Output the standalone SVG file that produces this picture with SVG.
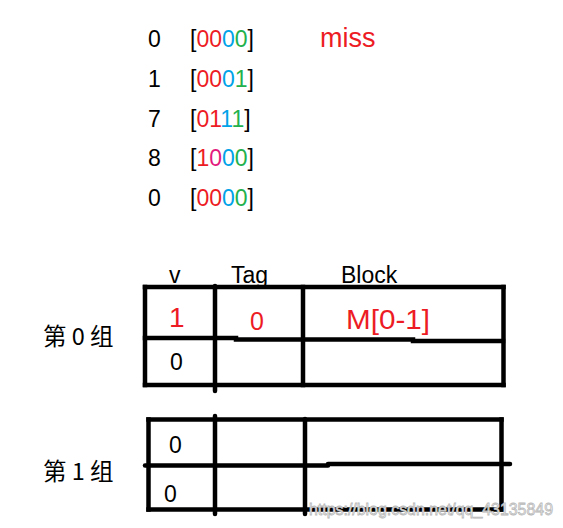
<svg xmlns="http://www.w3.org/2000/svg" width="563" height="528" viewBox="0 0 563 528">
<style>
  text { font-family: "Liberation Sans", Arial, sans-serif; }
  .t { font-size: 23px; fill: #000; }
  .r { fill: #ed1c24; }
  .b { fill: #00a2e8; }
  .g { fill: #22b14c; }
  .m { fill: #e3197e; }
  .cjk { font-family: "Noto Sans CJK SC", "Noto Sans", sans-serif; font-size: 23.5px; fill: #000; }
  .ln { stroke: #000; stroke-width: 4.5; fill: none; stroke-linecap: square; }
  .rl { stroke: #000; stroke-width: 4.5; fill: none; stroke-linecap: round; }
  .wm { font-family: "Liberation Sans", Arial, sans-serif; font-size: 17px; fill: #f4f4f4; stroke: #b8b8b8; stroke-width: 0.8; }
</style>

<g id="addresses">
  <text class="t" x="148" y="47">0</text>
  <text class="t" x="190" y="47">[<tspan class="r">00</tspan><tspan class="b">0</tspan><tspan class="g">0</tspan>]</text>
  <text x="320" y="47" font-size="27" class="r">miss</text>

  <text class="t" x="148" y="87">1</text>
  <text class="t" x="190" y="87">[<tspan class="r">00</tspan><tspan class="b">0</tspan><tspan class="g">1</tspan>]</text>

  <text class="t" x="148" y="127">7</text>
  <text class="t" x="190" y="127">[<tspan class="r">01</tspan><tspan class="b">1</tspan><tspan class="g">1</tspan>]</text>

  <text class="t" x="148" y="166">8</text>
  <text class="t" x="190" y="166">[<tspan class="r">1</tspan><tspan class="m">0</tspan><tspan class="b">0</tspan><tspan class="g">0</tspan>]</text>

  <text class="t" x="148" y="206">0</text>
  <text class="t" x="190" y="206">[<tspan class="r">00</tspan><tspan class="b">0</tspan><tspan class="g">0</tspan>]</text>
</g>

<g id="headers">
  <text class="t" x="169" y="283" font-size="24">v</text>
  <text class="t" x="231" y="283">Tag</text>
  <text class="t" x="341" y="283">Block</text>
</g>

<g id="set0">
  <text class="cjk" x="43" y="345">第 0 组</text>
  <line class="ln" x1="145" y1="287" x2="503.5" y2="287"/>
  <line class="ln" x1="145" y1="385" x2="503.5" y2="385"/>
  <line class="ln" x1="145" y1="287" x2="145" y2="385"/>
  <line class="ln" x1="503.5" y1="287" x2="503.5" y2="385"/>
  <line class="rl" x1="215" y1="286" x2="215" y2="391"/>
  <line class="ln" x1="303" y1="287" x2="303" y2="385"/>
  <line class="ln" x1="145" y1="338" x2="236" y2="338"/>
  <line class="ln" x1="236" y1="339.5" x2="413" y2="339.5"/>
  <line class="ln" x1="413" y1="341" x2="503" y2="341"/>
  <text x="169" y="327" font-size="28" class="r">1</text>
  <text x="250" y="330" font-size="25" class="r">0</text>
  <text x="346" y="329" font-size="28" class="r" textLength="84" lengthAdjust="spacingAndGlyphs">M[0-1]</text>
  <text class="t" x="170" y="370">0</text>
</g>

<g id="set1">
  <text class="cjk" x="43" y="480">第 1 组</text>
  <line class="ln" x1="148.5" y1="419.5" x2="501.5" y2="419.5"/>
  <line class="ln" x1="148.5" y1="509.5" x2="501.5" y2="509.5"/>
  <line class="ln" x1="148.5" y1="419.5" x2="148.5" y2="509.5"/>
  <line class="ln" x1="501.5" y1="419.5" x2="501.5" y2="509.5"/>
  <line class="rl" x1="215" y1="416" x2="215" y2="514"/>
  <line class="rl" x1="305" y1="419" x2="305" y2="514"/>
  <line class="rl" x1="145" y1="465.5" x2="328" y2="465.5"/>
  <line class="rl" x1="328" y1="464" x2="510" y2="464"/>
  <text class="t" x="169" y="453">0</text>
  <text class="t" x="164" y="502">0</text>
</g>

<g id="connectors"></g>

<text class="wm" x="309" y="515" textLength="244" lengthAdjust="spacingAndGlyphs">https://blog.csdn.net/qq_43135849</text>
</svg>
